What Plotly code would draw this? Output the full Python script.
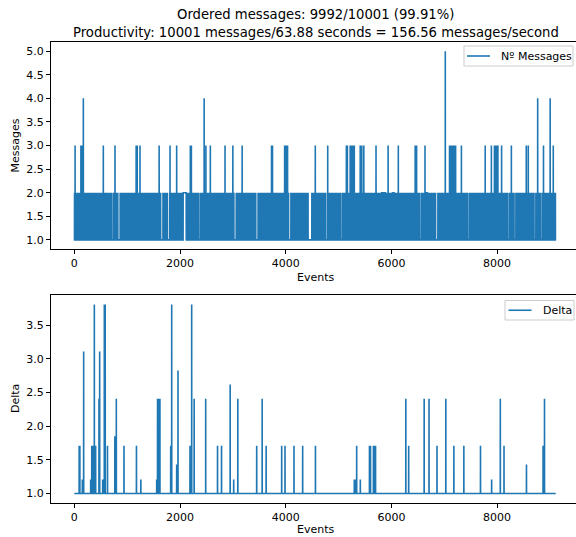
import numpy as np
import plotly.graph_objects as go

# ---- data -----------------------------------------------------------------
N_EVENTS = 9110
TITLE_LINE_1 = "Ordered messages: 9992/10001 (99.91%)"
TITLE_LINE_2 = "Productivity: 10001 messages/63.88 seconds = 156.56 messages/second"

# events where more than two messages arrived together
burst_events = [15, 125, 140, 152, 171, 549, 770, 1170, 1190, 1243, 1605, 1811,
                1937, 2195, 2215, 2457, 2490, 2574, 2852, 3000, 3176, 3732, 3750,
                3980, 4000, 4020, 4035, 4560, 4795, 5148, 5167, 5220, 5240, 5260,
                5280, 5298, 5410, 5440, 5478, 5709, 5938, 6131, 6450, 6477, 6636,
                7020, 7100, 7130, 7160, 7190, 7215, 7325, 7775, 7892, 7950, 7975,
                8000, 8015, 8085, 8270, 8552, 8590, 8768, 8878, 9004, 9063]
burst_values = [3, 3, 3, 3, 4, 3, 3, 3, 3, 3, 3, 3,
                3, 3, 3, 4, 3, 3, 3, 3, 3, 3, 3,
                3, 3, 3, 3, 3, 3, 3, 3, 3, 3, 3,
                3, 3, 3, 3, 3, 3, 3, 3, 3, 3, 3,
                5, 3, 3, 3, 3, 3, 3, 3, 3, 3, 3,
                3, 3, 3, 3, 3, 3, 4, 3, 4, 3]

# stretches where every event carried a single message
single_starts = [710, 830, 1640, 1768, 2345, 3026, 3440, 4060, 4425, 4761,
                 5045, 6539, 6842, 7440, 8197, 8324, 8702, 8816]
single_ends = [742, 862, 1672, 1800, 2377, 3058, 3472, 4092, 4490, 4793,
               5077, 6571, 6874, 7472, 8229, 8356, 8734, 8848]

# stretches where every event carried two messages
double_starts = [2060, 5816, 5860, 6022, 6652]
double_ends = [2118, 5842, 5885, 6050, 6680]

# sequence gaps (delta) larger than one
delta_events = [92, 105, 152, 177, 310, 330, 345, 360, 379, 404, 467, 480, 537,
                568, 585, 628, 767, 795, 940, 1176, 1259, 1559, 1575, 1600, 1620,
                1824, 1843, 1937, 1962, 2189, 2221, 2268, 2486, 2710, 2786, 2949,
                3016, 3094, 3451, 3555, 3630, 3924, 3987, 4157, 4321, 4563, 5298,
                5317, 5343, 5412, 5585, 5605, 5660, 5680, 5700, 6273, 6327, 6620,
                6712, 6863, 7030, 7182, 7371, 7686, 7897, 8061, 8131, 8556, 8870,
                8897]
delta_values = [1.71, 1.71, 1.21, 3.11, 1.21, 1.71, 1.71, 1.71, 3.81, 1.71, 2.41,
                3.11, 1.21, 3.81, 3.81, 1.71, 1.85, 2.41, 1.71, 1.71, 1.21, 1.21,
                2.41, 2.41, 2.41, 1.71, 3.81, 1.43, 2.83, 1.71, 3.81, 2.41, 2.41,
                1.71, 1.71, 2.62, 1.21, 2.41, 1.71, 2.41, 1.71, 1.71, 1.71, 1.71,
                1.71, 1.71, 1.21, 1.21, 1.71, 1.21, 1.71, 1.71, 1.71, 1.71, 1.71,
                2.41, 1.71, 2.41, 2.41, 1.71, 2.41, 1.71, 1.71, 1.71, 1.21, 2.41,
                1.71, 1.43, 1.71, 2.41]

# ---- series ---------------------------------------------------------------
events = np.arange(N_EVENTS)

# the 1-2 band: a pair of messages lands on every ninth event
messages = np.where(events % 9 == 4, 2, 1)
for s, e in zip(single_starts, single_ends):
    messages[s:e] = 1
for s, e in zip(double_starts, double_ends):
    messages[s:e] = 2
messages[burst_events] = burst_values

delta = np.ones(N_EVENTS)
delta[delta_events] = delta_values

# ---- figure ---------------------------------------------------------------
BLUE = "#1f77b4"
FONT = "DejaVu Sans"
W, H = 576, 537
L = 51


def px_x(p):
    return (p - L) / (W - L)


def px_y(p):
    return 1 - p / H


fig = go.Figure()
fig.add_trace(go.Scatter(x=events, y=messages, mode="lines", name="Nº Messages",
                         line=dict(color=BLUE, width=1.6, simplify=False),
                         xaxis="x", yaxis="y", showlegend=False))
fig.add_trace(go.Scatter(x=events, y=delta, mode="lines", name="Delta",
                         line=dict(color=BLUE, width=1.6, simplify=False),
                         xaxis="x2", yaxis="y2", showlegend=False))

axis_common = dict(showgrid=False, zeroline=False, showline=True, linecolor="black",
                   linewidth=0.9, ticks="outside", ticklen=4, tickwidth=0.9,
                   tickcolor="black", tickfont=dict(family=FONT, size=11, color="black"))
x_range = [-441, 9493]

fig.update_layout(
    width=W, height=H, margin=dict(l=L, r=0, t=0, b=0),
    paper_bgcolor="white", plot_bgcolor="white", showlegend=False,
    font=dict(family=FONT, color="black"),
    xaxis=dict(axis_common, domain=[0, 1], anchor="y", range=x_range,
               tickvals=[0, 2000, 4000, 6000, 8000], mirror=True),
    yaxis=dict(axis_common, domain=[px_y(249.3), px_y(41.7)], anchor="x",
               range=[0.8, 5.2], tickvals=[1, 1.5, 2, 2.5, 3, 3.5, 4, 4.5, 5],
               tickformat=".1f"),
    xaxis2=dict(axis_common, domain=[0, 1], anchor="y2", range=x_range,
                tickvals=[0, 2000, 4000, 6000, 8000], mirror=True),
    yaxis2=dict(axis_common, domain=[px_y(503), px_y(295)], anchor="x2",
                range=[0.859, 3.951], tickvals=[1, 1.5, 2, 2.5, 3, 3.5],
                tickformat=".1f"),
)

# legend boxes (frame, line handle, label) for each panel
legend_boxes = [
    dict(label="Nº Messages", x0=464, x1=573, y0=46, y1=66, hx0=467, hx1=490, tx=499),
    dict(label="Delta", x0=505, x1=574, y0=300.5, y1=320, hx0=508.5, hx1=531.5, tx=540.5),
]
for b in legend_boxes:
    fig.add_shape(type="rect", xref="paper", yref="paper",
                  x0=px_x(b["x0"]), x1=px_x(b["x1"]), y0=px_y(b["y1"]), y1=px_y(b["y0"]),
                  line=dict(color="#cccccc", width=1), fillcolor="rgba(255,255,255,0.8)",
                  layer="above")
    ym = px_y((b["y0"] + b["y1"]) / 2)
    fig.add_shape(type="line", xref="paper", yref="paper",
                  x0=px_x(b["hx0"]), x1=px_x(b["hx1"]), y0=ym, y1=ym,
                  line=dict(color=BLUE, width=1.6), layer="above")
    fig.add_annotation(xref="paper", yref="paper", x=px_x(b["tx"]), y=ym,
                       xanchor="left", yanchor="middle", showarrow=False,
                       text=b["label"], font=dict(family=FONT, size=11, color="black"))

center_x = px_x((51 + 580) / 2)
annotations = [
    dict(text=TITLE_LINE_1, x=center_x, y=px_y(14.6)),
    dict(text=TITLE_LINE_2, x=center_x, y=px_y(32.5)),
    dict(text="Events", x=center_x, y=px_y(277), font=dict(family=FONT, size=11)),
    dict(text="Events", x=center_x, y=px_y(529), font=dict(family=FONT, size=11)),
    dict(text="Messages", x=px_x(15), y=px_y(145.5), textangle=-90,
         font=dict(family=FONT, size=11)),
    dict(text="Delta", x=px_x(15), y=px_y(399), textangle=-90,
         font=dict(family=FONT, size=11)),
]
for a in annotations:
    a.setdefault("font", dict(family=FONT, size=13.2))
    a["font"]["color"] = "black"
    fig.add_annotation(xref="paper", yref="paper", xanchor="center", yanchor="middle",
                       showarrow=False, **a)

fig.write_html("out.html")
